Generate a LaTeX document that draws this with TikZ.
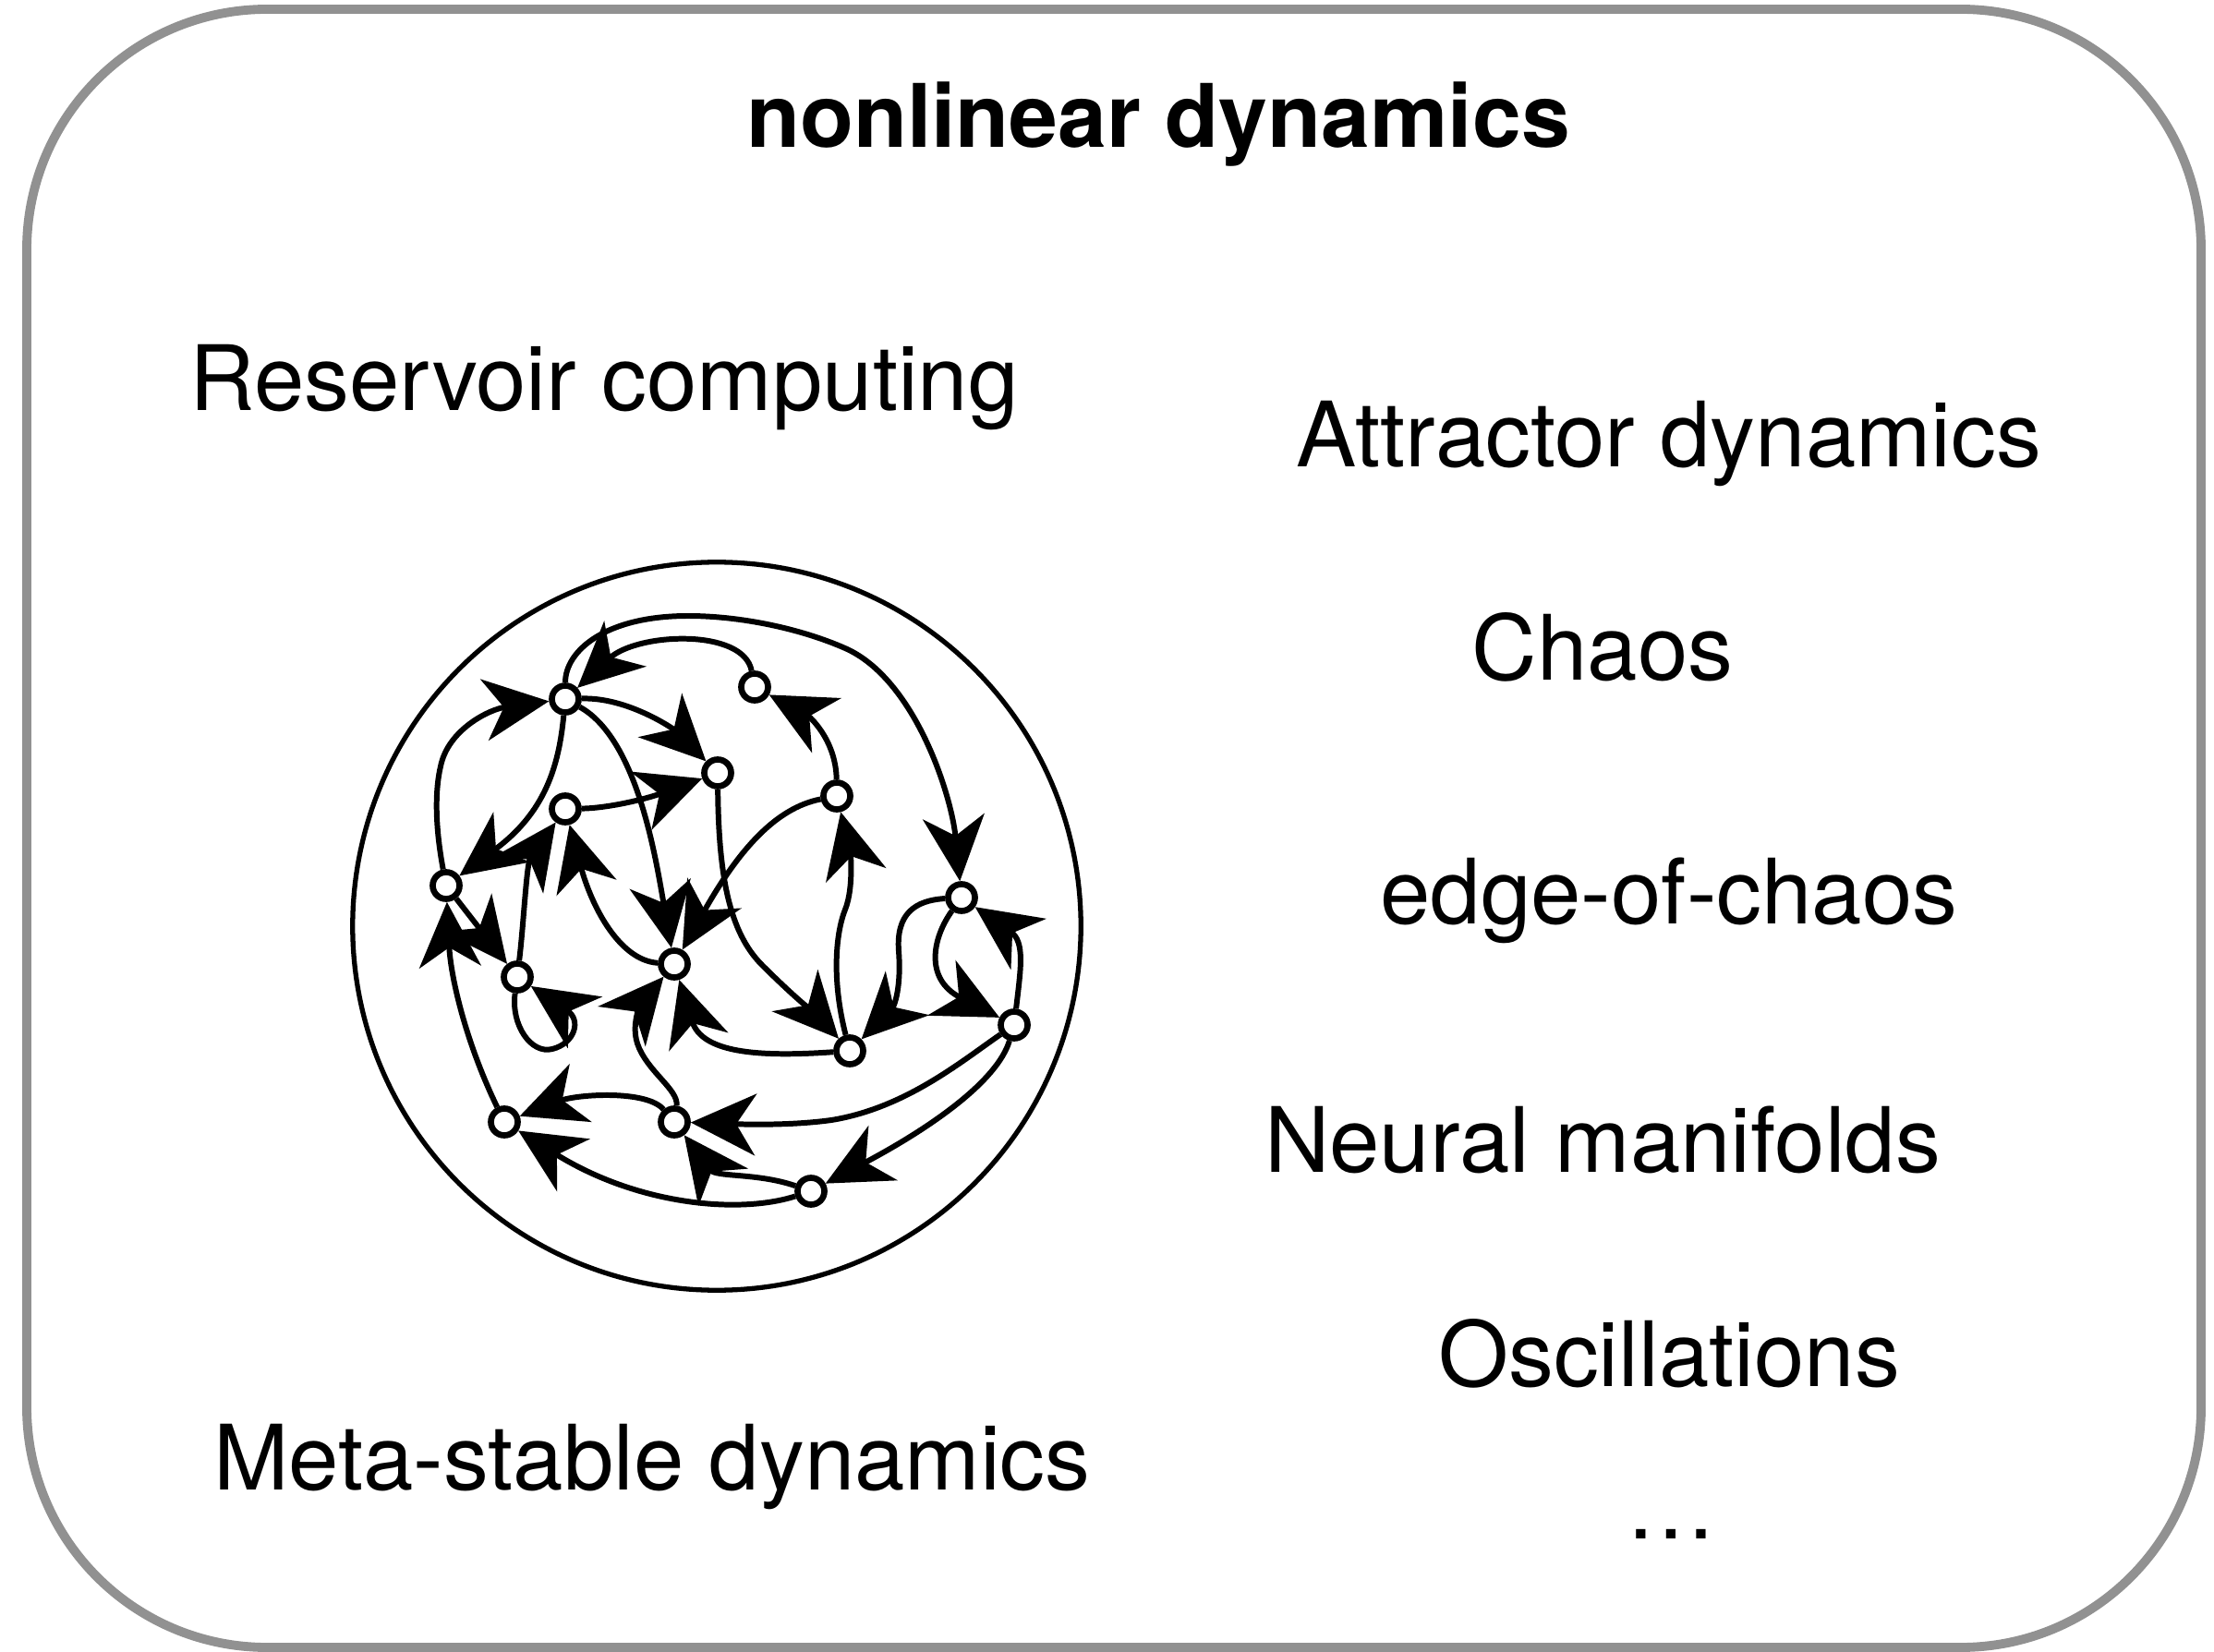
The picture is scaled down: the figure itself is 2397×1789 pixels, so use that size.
\documentclass[tikz,border=0pt]{standalone}
\usepackage{fontspec}
\setmainfont{TeX Gyre Heros}
\usetikzlibrary{arrows.meta}

\begin{document}
\begin{tikzpicture}[
        x=0.01cm, y=-0.01cm,
        frame/.style={draw=black!43, line width=2.8pt, rounded corners=2.6cm},
        pool/.style={circle, draw=black, line width=1.5pt, minimum size=7.88cm, inner sep=0pt},
        unit/.style={circle, draw=black, fill=white, line width=1.9pt, minimum size=0.29cm, inner sep=0pt},
        syn/.style={-{Stealth[length=20pt, width=19pt, inset=6pt]}, draw=black, line width=1.7pt},
        topic/.style={anchor=base, font=\fontsize{27.8}{33}\selectfont},
        heading/.style={anchor=base, font=\fontsize{27}{32}\selectfont\bfseries}
    ]
        \useasboundingbox (0,0) rectangle (2397,1789);
        \draw[frame] (29,10) rectangle (2383,1784);

        % labels
        \node[heading] (title) at (1254,160) {nonlinear dynamics};
        \node[topic] (reservoir) at (654,445) {Reservoir computing};
        \node[topic] (attractor) at (1807,506) {Attractor dynamics};
        \node[topic] (chaos) at (1735,737) {Chaos};
        \node[topic] (edgechaos) at (1807,1001) {edge-of-chaos};
        \node[topic] (manifolds) at (1735,1269) {Neural manifolds};
        \node[topic] (oscill) at (1807,1501) {Oscillations};
        \node[topic] (more) at (1809,1666) {\textellipsis};
        \node[topic] (metastable) at (706,1613) {Meta-stable dynamics};

        % recurrent network
        \node[pool] (net) at (776,1003) {};
        \node[unit] (A) at (612,757) {};
        \node[unit] (B) at (817,744) {};
        \node[unit] (C) at (777,837) {};
        \node[unit] (D) at (612,876) {};
        \node[unit] (E) at (906,862) {};
        \node[unit] (F) at (483,959) {};
        \node[unit] (G) at (1041,972) {};
        \node[unit] (H) at (560,1058) {};
        \node[unit] (I) at (730,1044) {};
        \node[unit] (J) at (920,1138) {};
        \node[unit] (K) at (1098,1110) {};
        \node[unit] (L) at (546,1215) {};
        \node[unit] (M) at (730,1215) {};
        \node[unit] (N) at (878,1290) {};

        \draw[syn] (A) .. controls (612,705) and (655,667) .. (745,667) .. controls (800,667) and (865,680) .. (915,702) .. controls (990,735) and (1030,860) .. (G);
        \draw[syn] (B) .. controls (805,680) and (690,685) .. (A);
        \draw[syn] (F) .. controls (472,900) and (470,860) .. (477,830) .. controls (485,790) and (530,768) .. (A);
        \draw[syn] (A) .. controls (605,830) and (590,880) .. (F);
        \draw[syn] (A) .. controls (680,755) and (730,790) .. (C);
        \draw[syn] (A) .. controls (690,800) and (710,930) .. (I);
        \draw[syn] (D) .. controls (660,875) and (700,865) .. (C);
        \draw[syn] (H) .. controls (567,1000) and (570,935) .. (D);
        \draw[syn] (I) .. controls (670,1040) and (640,980) .. (D);
        \draw[syn] (L) .. controls (505,1130) and (488,1060) .. (F);
        \draw[syn] (F) -- (H);
        \draw[syn] (H) .. controls (553,1110) and (575,1142) .. (598,1136) .. controls (622,1130) and (630,1105) .. (H);
        \draw[syn] (E) .. controls (840,875) and (800,920) .. (I);
        \draw[syn] (C) .. controls (778,950) and (790,1010) .. (825,1045) .. controls (860,1080) and (890,1105) .. (J);
        \draw[syn] (M) .. controls (735,1180) and (700,1160) .. (690,1130) .. controls (682,1105) and (698,1082) .. (I);
        \draw[syn] (J) .. controls (820,1145) and (760,1140) .. (I);
        \draw[syn] (M) .. controls (700,1180) and (625,1185) .. (L);
        \draw[syn] (N) .. controls (800,1315) and (690,1305) .. (L);
        \draw[syn] (K) .. controls (1040,1150) and (980,1200) .. (900,1213) .. controls (850,1220) and (790,1217) .. (M);
        \draw[syn] (N) .. controls (820,1270) and (775,1275) .. (M);
        \draw[syn] (K) .. controls (1080,1170) and (1010,1220) .. (N);
        \draw[syn] (G) .. controls (990,975) and (970,990) .. (973,1030) .. controls (976,1070) and (968,1090) .. (J);
        \draw[syn] (J) .. controls (900,1060) and (905,1010) .. (915,985) .. controls (925,960) and (920,920) .. (E);
        \draw[syn] (E) .. controls (905,800) and (875,775) .. (B);
        \draw[syn] (G) .. controls (1010,1015) and (1000,1060) .. (K);
        \draw[syn] (K) .. controls (1105,1050) and (1110,1020) .. (G);
    \end{tikzpicture}
\end{document}
